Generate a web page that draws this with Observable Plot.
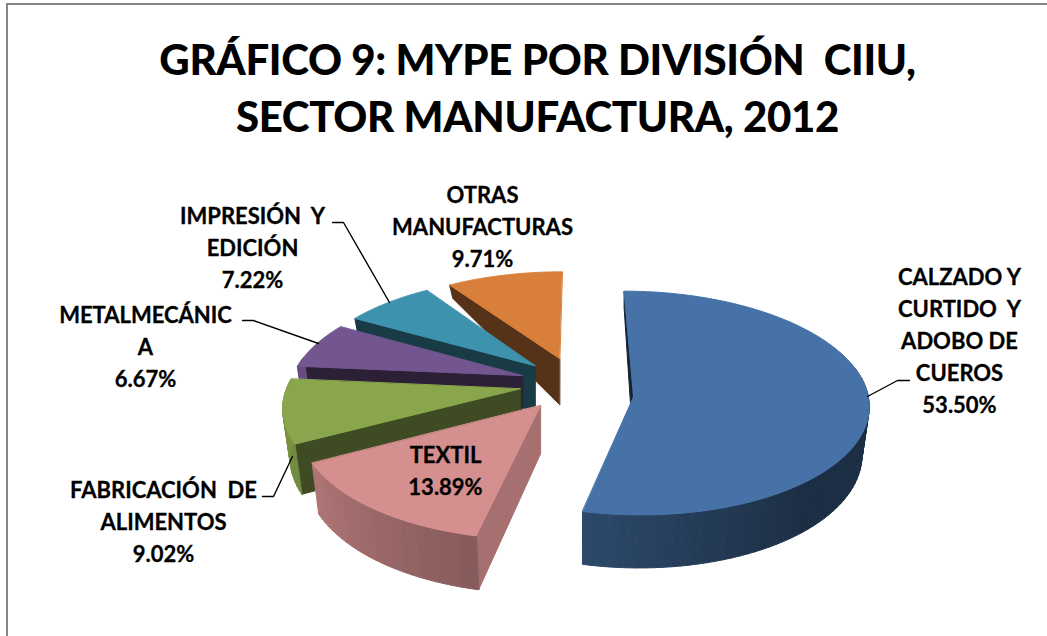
<!DOCTYPE html>
<html lang="es">
<head>
<meta charset="utf-8">
<script src="https://cdn.jsdelivr.net/npm/d3@7"></script>
<script src="https://cdn.jsdelivr.net/npm/@observablehq/plot@0.6"></script>
<style>
  html, body { margin: 0; padding: 0; background: #fff; }
  #frame { position: relative; width: 1047px; height: 636px; overflow: hidden; }
  #frame::before { content: ""; position: absolute; left: 6px; top: 3px; right: 0; bottom: 0;
    border-left: 2px solid #868686; border-top: 2px solid #868686; pointer-events: none; }
  h1 { margin: 0; height: 170px; padding-top: 31px; box-sizing: border-box; text-align: center;
    font: 900 42px/57px Lato, sans-serif; letter-spacing: -0.35px; color: #000; padding-left: 28px; }
  svg { display: block; }
</style>
</head>
<body>
<div id="frame">
  <h1>GRÁFICO 9: MYPE POR DIVISIÓN&nbsp; CIIU,<br>SECTOR MANUFACTURA, 2012</h1>
</div>
<script>
// Data
const categories = ["CALZADO Y\nCURTIDO  Y\nADOBO DE\nCUEROS", "TEXTIL", "FABRICACIÓN  DE\nALIMENTOS", "METALMECÁNIC\nA", "IMPRESIÓN  Y\nEDICIÓN", "OTRAS\nMANUFACTURAS"];
const shares = [53.50, 13.89, 9.02, 6.67, 7.22, 9.71];

// Styling
const topColors = ["#4672a8", "#d58f8f", "#8aa64d", "#735590", "#3d93ae", "#d8803b"];
const sideShade = [0.3, 0.78, 0.45, 0.38, 0.4, 0.4];

// Annotation layout
const labelX = [959, 445, 163, 145, 252, 482];
const labelY = [338, 468, 519, 344, 245, 224];
const leaders = [
  [[867, 396], [897, 380], [909, 380]],
  [],
  [[262, 496], [273, 496], [292, 456]],
  [[242, 320], [253, 320], [318, 343]],
  [[332, 222], [343, 222], [389, 302]],
  []
];

// Tilted-disc projection of the exploded pie
const cx = 575.5, cy = 383, rx = 232, ry = 111, persp = 0.149, explode = 0.244, baseInset = 0.975;
const depth = d3.scaleLinear([-1.2, 0.25, 1.06], [54, 46, 13]).clamp(true);
const rimShade = d3.scaleLinear([90, 140, 192, 242, 270], [0.4, 0.4, 0.63, 0.82, 0.9]).clamp(true);
const rad = (a) => a * Math.PI / 180;
const project = (X, Y) => [cx + rx * X * (1 - persp * Y), cy - ry * Y * (1 - persp * Y)];
const inset = (x) => cx + (x - cx) * baseInset;
const shade = (c, f) => { const q = d3.rgb(c); return d3.rgb(q.r * f, q.g * f, q.b * f).formatHex(); };

const total = d3.sum(shares);
let acc = 0;
const slices = shares.map((v, i) => {
  const a0 = acc / total * 360; acc += v;
  const a1 = acc / total * 360;
  const mid = (a0 + a1) / 2;
  return { i, a0, a1, ox: explode * Math.sin(rad(mid)), oy: explode * Math.cos(rad(mid)), reflex: a1 - a0 > 180 };
});

const rows = [];
const poly = (id, fill, pts) => pts.forEach(([x, y]) => rows.push({ id, fill, x, y }));

// Paint from the back slice to the front one
[5, 4, 3, 2, 1, 0].forEach((i) => {
  const s = slices[i], base = topColors[i];
  const rim = (a) => {
    const Y = s.oy + Math.cos(rad(a));
    const [x, y] = project(s.ox + Math.sin(rad(a)), Y);
    return { x, y, d: depth(Y) };
  };
  const [ax, ay] = project(s.ox, s.oy);
  const ad = depth(s.oy);
  // radial wall on the slice's leading edge
  const c0 = rim(s.a0);
  poly(`wall${i}`, shade(base, sideShade[i]), [[ax, ay], [c0.x, c0.y], [s.reflex ? c0.x : inset(c0.x), c0.y + c0.d], [ax, ay + ad]]);
  // outer rim, front half only
  const lo = Math.max(s.a0, 80), hi = Math.min(s.a1, 280);
  if (hi > lo) {
    const steps = Math.ceil((hi - lo) / 2);
    d3.range(steps).forEach((k) => {
      const p = lo + (hi - lo) * k / steps, q = lo + (hi - lo) * (k + 1) / steps;
      const P = rim(p), Q = rim(q);
      poly(`rim${i}-${k}`, shade(base, rimShade((p + q) / 2)),
        [[P.x, P.y], [Q.x, Q.y], [inset(Q.x), Q.y + Q.d], [inset(P.x), P.y + P.d]]);
    });
  }
  // top face
  const arc = d3.range(0, 121).map((k) => {
    const r = rim(s.a0 + (s.a1 - s.a0) * k / 120);
    return [r.x, r.y];
  });
  poly(`top${i}`, base, [[ax + (s.reflex ? 1 : 0), ay + (s.reflex ? 10 : 0)], ...arc]);
});

const labels = categories.map((name, i) => ({
  text: `${name}\n${shares[i].toFixed(2)}%`, x: labelX[i], y: labelY[i]
}));
const leaderRows = leaders.flatMap((pts, i) => pts.map(([x, y]) => ({ i, x, y })));

const chart = Plot.plot({
  width: 1047, height: 466,
  margin: 0,
  x: { domain: [0, 1047], range: [0, 1047], axis: null },
  y: { domain: [170, 636], range: [0, 466], axis: null },
  color: { type: "identity" },
  style: { background: "transparent" },
  marks: [
    Plot.line(rows, { x: "x", y: "y", z: "id", fill: "fill", stroke: "fill", strokeWidth: 1, curve: "linear-closed", imageFilter: "blur(0.7px)" }),
    Plot.line(leaderRows, { x: "x", y: "y", z: "i", stroke: "#000", strokeWidth: 1.4 }),
    Plot.text(labels, { x: "x", y: "y", text: "text", fill: "#000", stroke: "#000", strokeWidth: 0.3, fontFamily: "Lato", fontWeight: 700, fontSize: 22, lineHeight: 1.46, textAnchor: "middle" })
  ]
});
document.getElementById("frame").appendChild(chart);
</script>
</body>
</html>
